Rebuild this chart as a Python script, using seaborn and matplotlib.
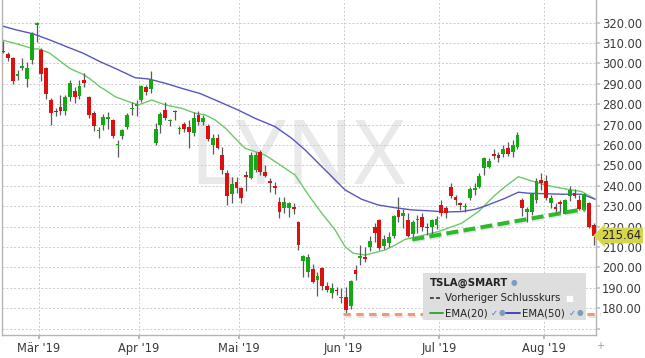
import numpy as np
import pandas as pd
import seaborn as sns
import matplotlib.pyplot as plt
import matplotlib.patheffects as pe
from matplotlib.patches import Rectangle
from matplotlib.lines import Line2D

# TSLA Tageskerzen 19.02.2019 - 15.08.2019
dates = pd.bdate_range('2019-02-19', '2019-08-15', freq='C',
                       holidays=['2019-04-19', '2019-05-27', '2019-07-04'])

opens = [306.2, 304.7, 302.5, 294.0, 297.8, 292.4, 301.7, 319.0, 306.6, 297.6,
         282.1, 276.8, 278.5, 276.7, 283.5, 286.7, 284.1, 291.9, 283.4, 275.9,
         266.8, 269.8, 272.8, 272.3, 260.0, 264.5, 269.0, 277.5, 279.3, 282.1,
         288.3, 287.4, 260.9, 269.9, 277.2, 271.8, 276.6, 267.9, 270.2, 269.0,
         265.8, 274.8, 271.2, 269.4, 260.0, 263.3, 255.0, 246.2, 235.9, 242.1,
         238.8, 245.3, 244.0, 247.8, 256.8, 247.0, 242.1, 239.6, 232.3, 229.3,
         229.3, 229.5, 222.4, 203.3, 197.9, 199.3, 193.9, 199.9, 191.1, 187.6,
         189.0, 184.8, 185.7, 181.1, 198.8, 204.5, 205.0, 209.9, 219.8, 223.3,
         210.7, 211.9, 215.2, 228.3, 225.4, 223.5, 216.3, 223.3, 224.6, 220.0,
         220.0, 220.8, 230.6, 229.3, 239.3, 234.6, 231.5, 229.5, 233.9, 238.0,
         239.6, 248.6, 249.4, 255.6, 255.0, 255.6, 258.4, 256.8, 259.2, 233.1,
         227.0, 227.0, 233.1, 242.9, 242.4, 231.5, 229.8, 232.0, 226.2, 235.1,
         236.4, 233.1, 228.2, 231.5, 220.8]
highs = [311.0, 305.5, 303.0, 296.8, 302.5, 300.9, 315.6, 320.2, 307.4, 298.5,
         283.0, 278.0, 284.6, 284.6, 291.9, 288.5, 291.9, 295.2, 284.0, 276.5,
         268.9, 275.0, 276.4, 273.0, 262.5, 268.0, 275.5, 281.3, 282.0, 289.5,
         289.5, 296.3, 270.7, 276.0, 280.9, 273.0, 277.0, 269.5, 271.5, 272.3,
         276.0, 276.5, 274.5, 270.5, 265.3, 265.3, 258.9, 248.0, 244.2, 244.2,
         239.6, 247.5, 256.5, 256.8, 257.6, 250.2, 243.7, 242.1, 234.7, 234.7,
         232.3, 231.5, 223.0, 206.1, 206.5, 201.6, 197.9, 200.4, 192.7, 192.3,
         190.5, 189.8, 190.2, 193.8, 201.2, 211.0, 210.2, 215.2, 221.7, 223.6,
         215.9, 217.6, 225.7, 234.4, 228.5, 226.6, 223.5, 225.7, 226.5, 222.0,
         224.0, 225.0, 233.0, 230.0, 241.3, 235.5, 232.3, 231.5, 239.6, 241.3,
         246.2, 254.3, 253.5, 258.0, 256.8, 260.0, 261.7, 262.5, 266.3, 233.9,
         229.8, 236.4, 243.7, 246.5, 245.3, 235.5, 231.8, 233.1, 233.4, 240.0,
         238.3, 235.5, 236.4, 232.0, 221.7]
lows = [305.0, 301.0, 290.0, 291.9, 296.8, 288.6, 299.7, 310.7, 291.6, 282.6,
        269.9, 274.4, 274.8, 274.8, 281.5, 280.5, 282.5, 288.3, 273.3, 267.1,
        263.3, 267.5, 267.9, 263.3, 254.3, 263.0, 268.0, 274.8, 274.4, 281.0,
        284.5, 285.3, 260.0, 266.0, 272.5, 269.5, 272.5, 265.3, 266.5, 258.4,
        264.5, 270.0, 270.0, 262.0, 255.5, 257.9, 245.8, 230.6, 231.5, 236.3,
        231.5, 237.6, 243.5, 247.0, 245.5, 244.2, 236.9, 235.9, 224.1, 226.9,
        224.9, 226.2, 208.6, 195.2, 195.5, 192.3, 186.0, 189.0, 188.1, 185.0,
        186.5, 182.4, 177.9, 179.5, 193.9, 201.2, 202.8, 207.9, 212.6, 208.6,
        208.9, 209.9, 214.3, 222.4, 219.2, 214.8, 214.5, 216.8, 218.0, 216.0,
        216.5, 219.0, 225.0, 224.1, 233.9, 230.6, 228.2, 227.4, 233.1, 235.5,
        238.8, 245.3, 248.6, 253.0, 251.6, 254.3, 254.8, 254.3, 257.9, 225.4,
        222.4, 225.7, 231.8, 238.0, 233.1, 229.0, 226.6, 226.6, 226.1, 232.7,
        233.9, 228.2, 227.5, 219.5, 211.0]
closes = [305.4, 302.5, 291.5, 294.8, 298.6, 297.6, 314.5, 320.0, 294.7, 285.0,
          275.9, 276.2, 276.7, 283.7, 290.6, 283.7, 289.0, 290.3, 274.8, 269.4,
          267.5, 273.9, 273.9, 264.6, 260.6, 267.4, 274.8, 278.3, 280.0, 289.1,
          285.9, 291.9, 267.9, 275.1, 273.4, 272.3, 276.0, 268.4, 267.9, 266.3,
          273.1, 271.5, 273.1, 262.8, 263.6, 258.7, 247.8, 235.1, 240.9, 238.8,
          234.2, 244.2, 255.2, 255.2, 247.0, 244.9, 241.6, 239.1, 227.1, 232.0,
          231.8, 228.5, 211.0, 205.6, 205.0, 193.0, 195.8, 190.9, 189.0, 189.8,
          188.6, 185.4, 179.2, 193.5, 196.8, 205.6, 204.0, 213.0, 217.1, 209.4,
          214.0, 214.8, 225.2, 224.9, 226.6, 215.5, 222.2, 223.8, 219.9, 219.2,
          223.2, 223.6, 226.6, 226.6, 235.1, 233.3, 230.5, 230.1, 238.5, 238.8,
          244.9, 253.5, 252.2, 254.8, 253.8, 258.0, 255.5, 260.0, 264.9, 229.1,
          228.5, 235.9, 242.4, 241.6, 234.2, 234.2, 228.5, 231.0, 233.1, 238.0,
          235.1, 228.7, 235.9, 220.0, 215.64]

# EMA-Linien (Stuetzpunkte: Handelstag-Index, Wert)
ema20_idx = [-0.3, 3.0, 6.3, 7.7, 9.8, 12.3, 14.0, 16.8, 18.2, 20.3, 21.4, 23.5,
             26.3, 28.4, 31.2, 34.0, 37.5, 40.3, 42.4, 44.5, 46.7, 48.7, 50.8,
             52.9, 55.0, 57.1, 59.2, 61.3, 63.4, 64.1, 66.9, 69.7, 71.8, 73.5,
             76.0, 78.1, 80.2, 82.3, 84.4, 86.5, 91.4, 96.3, 99.8, 103.3, 105.4,
             108.2, 110.3, 113.8, 117.3, 121.5, 124.3]
ema20_val = [311.5, 309.5, 307.2, 307.0, 305.0, 300.5, 297.5, 294.6, 292.5, 288.5,
             287.0, 283.7, 281.3, 279.7, 282.1, 279.7, 278.0, 275.6, 274.8, 272.3,
             268.2, 263.3, 258.4, 256.8, 255.1, 251.9, 248.6, 245.3, 238.0, 235.5,
             226.6, 218.4, 210.2, 207.0, 206.1, 207.3, 208.6, 211.0, 213.8, 214.8,
             217.6, 221.7, 227.4, 235.5, 239.6, 244.5, 242.9, 240.4, 238.8, 237.2,
             233.5]
ema50_idx = [-0.3, 2.8, 6.3, 9.8, 13.3, 16.8, 20.3, 23.5, 27.7, 30.5, 34.0, 37.5,
             41.4, 44.5, 49.3, 52.9, 57.1, 60.6, 63.4, 67.6, 69.7, 71.8, 75.3,
             78.8, 82.3, 85.8, 89.3, 92.8, 96.3, 99.1, 101.2, 105.4, 108.2, 110.3,
             117.3, 121.5, 124.3]
ema50_val = [318.4, 316.4, 314.5, 311.5, 308.2, 305.0, 300.9, 297.6, 293.0, 292.4,
             290.3, 287.8, 285.2, 282.1, 277.2, 273.1, 269.0, 263.3, 257.6, 247.8,
             242.9, 238.0, 233.4, 230.6, 229.3, 228.2, 227.8, 227.2, 227.4, 228.5,
             230.1, 233.9, 236.9, 236.4, 235.9, 235.9, 233.5]

# Trendlinie und Linie am Juni-Tief
trend_idx = [85.9, 122.2]
trend_val = [213.7, 228.7]
low_line_idx = [71.4, 125.3]
low_line_val = [177.2, 177.2]

month_labels = ["Mär '19", "Apr '19", "Mai '19", "Jun '19", "Jul '19", "Aug '19"]
y_ticks = list(range(170, 321, 10))

sns.set_theme(style='white')
plt.rcParams['font.family'] = ['DejaVu Sans']

fig = plt.figure(figsize=(6.45, 3.58), dpi=100)
ax = fig.add_axes([2 / 645, 23 / 358, 594 / 645, 335 / 358])

o = np.array(opens)
h = np.array(highs)
l = np.array(lows)
c = np.array(closes)
idx = np.arange(len(dates))
up = c >= o

# Dochte + Koerper
ax.vlines(idx, l, h, color='#5a5a5a', lw=0.9, zorder=3)
body_low = np.minimum(o, c)
body_h = np.maximum(np.abs(c - o), 0.6)
ax.bar(idx, body_h, bottom=body_low, width=0.8,
       color=np.where(up, '#14a814', '#dd1010'), linewidth=0, zorder=4)

sns.lineplot(x=ema20_idx, y=ema20_val, ax=ax, color='#6cc96c', lw=1.0, zorder=2)
sns.lineplot(x=ema50_idx, y=ema50_val, ax=ax, color='#5656c4', lw=1.0, zorder=2)

shadow = [pe.SimpleLineShadow(offset=(0.4, -1.2), shadow_color='#999999', alpha=0.25), pe.Normal()]
ax.plot(trend_idx, trend_val, color='#2eb82e', lw=2.9, ls=(0, (3, 1.3)),
        zorder=5, path_effects=shadow, dash_capstyle='butt')
ax.plot(low_line_idx, low_line_val, color='#f09a70', lw=2.2, ls=(0, (2.4, 1.8)),
        zorder=5, path_effects=shadow, clip_on=False, dash_capstyle='butt')

# Wasserzeichen
ax.text(298 / 645, 1 - 161 / 358, 'LYNX', transform=fig.transFigure,
        ha='center', va='center', fontsize=64, fontweight='bold',
        fontfamily='Noto Sans', color='#e9e9e9', zorder=0.5)

# Achsen
month_pos = [i - 0.5 for i in range(1, len(dates)) if dates[i].month != dates[i - 1].month]
ax.set_xticks(month_pos)
ax.set_xticklabels(month_labels)
ax.set_xlim(-0.27, 124.5)
ax.set_ylim(166.9, 331.1)
ax.yaxis.tick_right()
ax.set_yticks(y_ticks)
ax.set_yticklabels(['' if v == 170 else f'{v:.2f}' for v in y_ticks])
ax.grid(True, color='#cccccc', lw=0.7, ls=(0, (2, 2)))
ax.tick_params(axis='y', right=True, length=3, pad=1.5, color='#c4c4c4',
               labelsize=8.3, labelcolor='#3a3a3a')
ax.tick_params(axis='x', bottom=True, length=3, pad=2, color='#b0b0b0',
               labelsize=8.3, labelcolor='#3a3a3a')
for s in ['left', 'bottom', 'right']:
    ax.spines[s].set_color('#b4b4b4')
    ax.spines[s].set_linewidth(1.0)
ax.spines['top'].set_visible(False)

# Kursmarke
ax.annotate(f'{closes[-1]:.2f}', xy=(1, closes[-1]), xycoords=('axes fraction', 'data'),
            xytext=(4, 0), textcoords='offset points', va='center', ha='left',
            fontsize=8.3, color='#222222', annotation_clip=False, zorder=6,
            bbox=dict(boxstyle='larrow,pad=0.12', fc='#d6d64c', ec='none'))

# Legende
def px(x, y):
    return x / 645, 1 - y / 358

leg = Rectangle(px(423, 320), 163 / 645, 47 / 358, transform=fig.transFigure,
                fc='#dedede', ec='none', zorder=10, clip_on=False)
ax.add_patch(leg)
ft = dict(transform=fig.transFigure, va='center', zorder=11, fontsize=7.3, color='#222222')
ax.text(*px(430, 283), 'TSLA@SMART', fontweight='bold', **ft)
ax.text(*px(511, 283), '●', **{**ft, 'color': '#7b9cc0', 'fontsize': 5.5})
ax.add_line(Line2D([430 / 645, 442 / 645], [1 - 298 / 358] * 2, transform=fig.transFigure,
                   color='#222222', lw=1.1, ls=(0, (2.5, 1.5)), zorder=11))
ax.text(*px(445, 298), 'Vorheriger Schlusskurs', **ft)
ax.text(*px(565, 298), '■', **{**ft, 'color': 'white', 'fontsize': 6})
ax.add_line(Line2D([430 / 645, 443 / 645], [1 - 313 / 358] * 2, transform=fig.transFigure,
                   color='#2ca02c', lw=1.3, zorder=11))
ax.text(*px(445, 313), 'EMA(20)', **ft)
ax.text(*px(491, 313), '✓', **{**ft, 'color': '#3a78c8', 'fontsize': 6})
ax.text(*px(499, 313), '●', **{**ft, 'color': '#7b9cc0', 'fontsize': 5.5})
ax.add_line(Line2D([506 / 645, 520 / 645], [1 - 313 / 358] * 2, transform=fig.transFigure,
                   color='#3b3bb0', lw=1.3, zorder=11))
ax.text(*px(522, 313), 'EMA(50)', **ft)
ax.text(*px(569, 313), '✓', **{**ft, 'color': '#3a78c8', 'fontsize': 6})
ax.text(*px(577, 313), '●', **{**ft, 'color': '#7b9cc0', 'fontsize': 5.5})

fig.text(600 / 645, 1 - 346 / 358, '+', ha='center', va='center', fontsize=7, color='#999999')

fig.savefig('out.png', dpi=100)
